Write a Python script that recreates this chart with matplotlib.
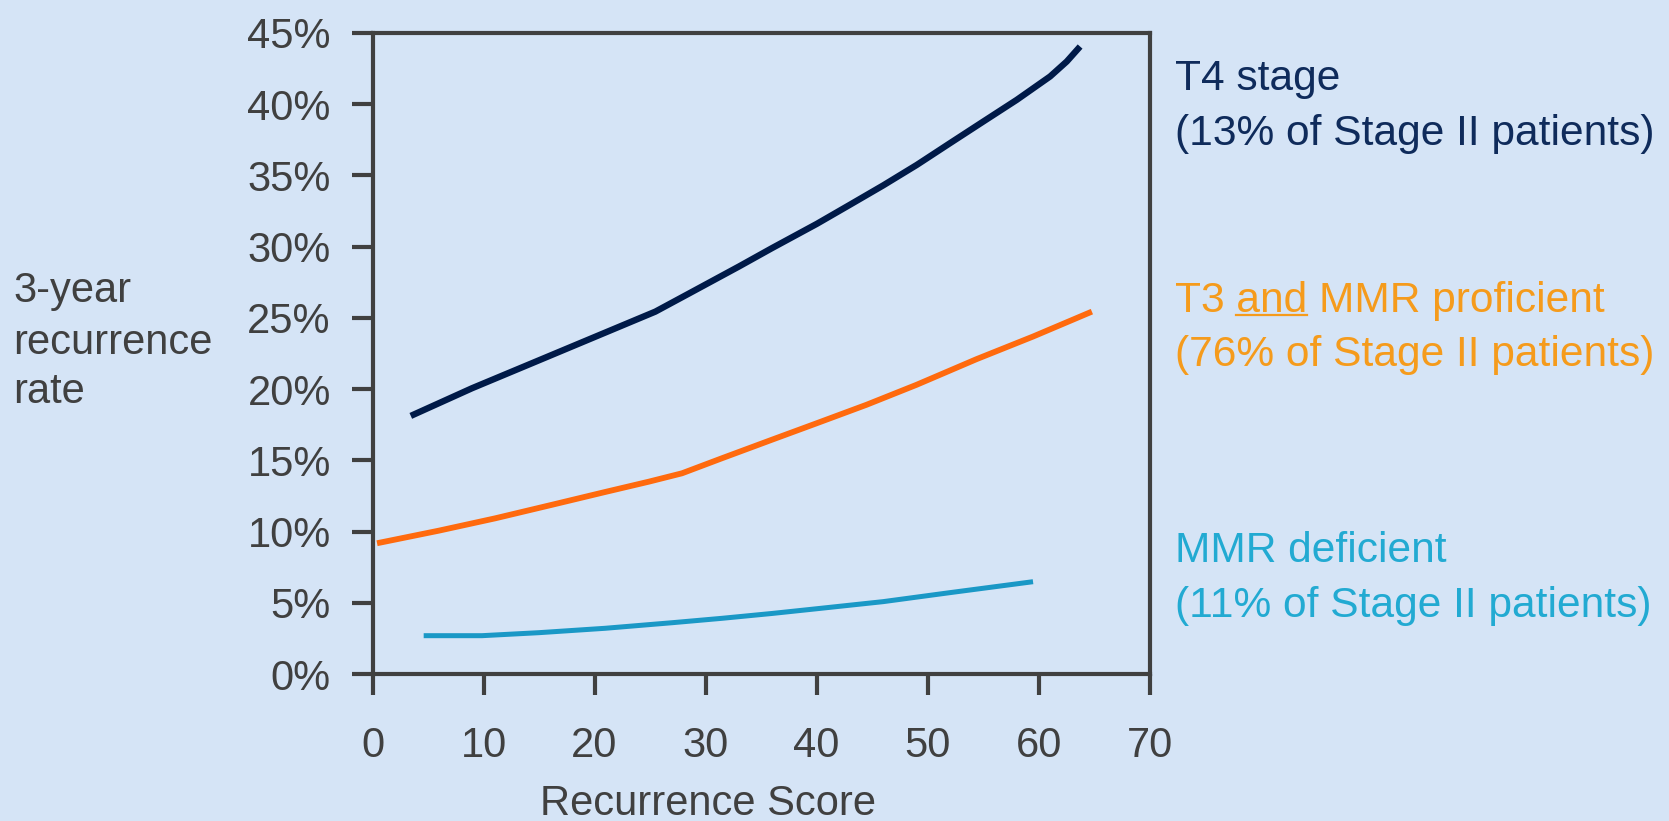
import matplotlib
matplotlib.use('Agg')
import matplotlib.pyplot as plt
from matplotlib.lines import Line2D

plt.rcParams['font.family'] = ['Liberation Sans', 'DejaVu Sans']

# ---- data ----
x_ticks = [0, 10, 20, 30, 40, 50, 60, 70]
y_ticks = [0, 5, 10, 15, 20, 25, 30, 35, 40, 45]
y_tick_labels = [f"{v}%" for v in y_ticks]

t4_x = [3.45, 8.96, 14.37, 20.97, 25.48, 28.48, 32.99, 35.99, 40.02, 43.02, 46.0,
        49.03, 52.03, 55.03, 58.04, 61.04, 62.54, 63.74]
t4_y = [18.12, 20.06, 21.82, 23.97, 25.44, 26.7, 28.6, 29.9, 31.6, 32.95, 34.3,
        35.74, 37.27, 38.79, 40.31, 41.95, 43.0, 44.05]

t3_x = [0.41, 5.96, 11.06, 16.17, 20.97, 24.88, 27.88, 31.49, 35.99, 40.0, 44.5,
        49.0, 54.4, 59.5, 64.8]
t3_y = [9.18, 10.06, 10.93, 11.88, 12.78, 13.5, 14.09, 15.15, 16.45, 17.6, 18.9,
        20.3, 22.1, 23.69, 25.44]

mmr_x = [4.61, 9.86, 14.97, 20.97, 26.98, 31.49, 35.99, 40.0, 46.0, 52.0, 59.5]
mmr_y = [2.69, 2.69, 2.9, 3.21, 3.6, 3.91, 4.25, 4.58, 5.08, 5.71, 6.48]

BG = '#D5E4F6'
GRAY = '#404040'
C_T4_LINE, C_T4_TXT = '#001A48', '#0F2B5B'
C_T3_LINE, C_T3_TXT = '#FF6A0E', '#F59B1C'
C_MMR_LINE, C_MMR_TXT = '#1A98C6', '#22AAD2'
FS = 30
FS_R = 30.6

W, H = 1669, 821
fig = plt.figure(figsize=(W / 100, H / 100), dpi=100, facecolor=BG)
L, R, T, B = 372.5, 1149.6, 33, 674
ax = fig.add_axes([L / W, 1 - B / H, (R - L) / W, (B - T) / H])
ax.set_facecolor(BG)

ax.plot(t4_x, t4_y, color=C_T4_LINE, lw=4.6, solid_capstyle='butt',
        solid_joinstyle='round', clip_on=False)
ax.plot(t3_x, t3_y, color=C_T3_LINE, lw=4.2, solid_capstyle='butt',
        solid_joinstyle='round', clip_on=False)
ax.plot(mmr_x, mmr_y, color=C_MMR_LINE, lw=3.6, solid_capstyle='butt',
        solid_joinstyle='round', clip_on=False)

ax.set_xlim(0, 70)
ax.set_ylim(0, 45)
ax.set_xticks(x_ticks)
ax.set_yticks(y_ticks)
ax.set_yticklabels(y_tick_labels)
ax.tick_params(axis='both', length=15, width=3, color=GRAY, labelsize=FS, labelcolor=GRAY)
ax.tick_params(axis='x', pad=22.5)
ax.tick_params(axis='y', pad=15)
for s in ax.spines.values():
    s.set_color(GRAY)
    s.set_linewidth(3)

# axis titles
for txt, base in [("3-year", 302), ("recurrence", 354), ("rate", 403)]:
    fig.text(13 / W, 1 - base / H, txt, ha='left', va='baseline', fontsize=FS, color=GRAY)
fig.text(708 / W, 1 - 815 / H, "Recurrence Score", ha='center', va='baseline',
         fontsize=FS, color=GRAY)

# right-hand labels
XL = 1175 / W
def lab(txt, base, col):
    return fig.text(XL, 1 - base / H, txt, ha='left', va='baseline', fontsize=FS_R, color=col)

lab("T4 stage", 90, C_T4_TXT)
lab("(13% of Stage II patients)", 145, C_T4_TXT)
lab("T3 and MMR proficient", 312, C_T3_TXT)
lab("(76% of Stage II patients)", 366, C_T3_TXT)
lab("MMR deficient", 562, C_MMR_TXT)
lab("(11% of Stage II patients)", 617, C_MMR_TXT)

# underline "and"
fig.canvas.draw()
rend = fig.canvas.get_renderer()
tmp1 = fig.text(XL, 0.5, "T3 and", fontsize=FS_R)
tmp2 = fig.text(XL, 0.5, "and", fontsize=FS_R)
w1 = tmp1.get_window_extent(rend).width
w2 = tmp2.get_window_extent(rend).width
tmp1.remove(); tmp2.remove()
x_end = XL * W + w1
x_start = x_end - w2
uy = 1 - 315 / H
fig.add_artist(Line2D([x_start / W, x_end / W], [uy, uy], transform=fig.transFigure,
                      color=C_T3_TXT, lw=1.6))

fig.savefig('out.png', dpi=100, facecolor=BG)
